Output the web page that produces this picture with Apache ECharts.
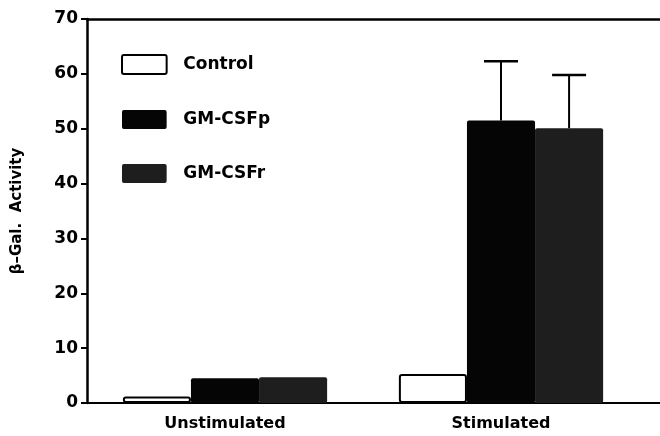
<!DOCTYPE html>
<html>
<head>
<meta charset="utf-8">
<script src="https://cdn.jsdelivr.net/npm/echarts@6/dist/echarts.min.js"></script>
<style>html,body{margin:0;padding:0;background:#fff}#c{width:660px;height:436px}</style>
</head>
<body>
<div id="c"></div>
<script>
var categories = ['Unstimulated', 'Stimulated'];
var seriesNames = ['Control', 'GM-CSFp', 'GM-CSFr'];
var controlValues = [1.2, 5.3];
var gmcsfpValues = [4.5, 51.5];
var gmcsfrValues = [4.7, 50.1];
var controlErr = [0, 0];
var gmcsfpErr = [0, 10.8];
var gmcsfrErr = [0, 9.7];
var yTicks = [0, 10, 20, 30, 40, 50, 60, 70];

var FONT = '"DejaVu Sans", sans-serif';
var GAP = 0.26;
var values = [controlValues, gmcsfpValues, gmcsfrValues];
var errs = [controlErr, gmcsfpErr, gmcsfrErr];
var fills = ['#ffffff', '#050505', '#1e1e1e'];

var chart = echarts.init(document.getElementById('c'), null, {renderer: 'canvas'});

var series = [];
seriesNames.forEach(function (name, i) {
  series.push({
    name: name, type: 'bar', xAxisIndex: 2, yAxisIndex: 1,
    barGap: 0, barCategoryGap: (GAP * 100) + '%',
    data: values[i],
    itemStyle: {color: fills[i], borderColor: '#000', borderWidth: i === 0 ? 2 : 0, borderRadius: 2},
    animation: false, z: 2
  });
});
// error bars
series.push({
  type: 'custom', xAxisIndex: 2, yAxisIndex: 1, animation: false, z: 3,
  data: (function () {
    var d = [];
    for (var s = 0; s < 3; s++) for (var c = 0; c < categories.length; c++) {
      if (errs[s][c] > 0) d.push([c, values[s][c], values[s][c] + errs[s][c], s]);
    }
    return d;
  })(),
  encode: {x: 0, y: [1, 2]},
  renderItem: function (params, api) {
    var c = api.value(0), lo = api.value(1), hi = api.value(2), s = api.value(3);
    var band = api.size([1, 0])[0];
    var bw = band * (1 - GAP) / 3;
    var p0 = api.coord([c, lo]);
    var p1 = api.coord([c, hi]);
    var x = p0[0] + (s - 1) * bw;
    var cap = 17;
    return {
      type: 'group',
      children: [
        {type: 'line', shape: {x1: x, y1: p0[1], x2: x, y2: p1[1]}, style: {stroke: '#000', lineWidth: 2}},
        {type: 'line', shape: {x1: x - cap, y1: p1[1], x2: x + cap, y2: p1[1]}, style: {stroke: '#000', lineWidth: 2.5}}
      ]
    };
  }
});

chart.setOption({
  backgroundColor: '#fff',
  animation: false,
  textStyle: {fontFamily: FONT},
  grid: [
    {left: 87, right: -5, top: 19, bottom: 33},
    {left: 87, right: 21, top: 19, bottom: 33}
  ],
  xAxis: [
    {gridIndex: 0, type: 'value', min: 0, max: 1, position: 'bottom',
     axisLine: {show: true, lineStyle: {color: '#000', width: 2}}, axisTick: {show: false}, axisLabel: {show: false}, splitLine: {show: false}},
    {gridIndex: 0, type: 'value', min: 0, max: 1, position: 'top',
     axisLine: {show: true, lineStyle: {color: '#000', width: 2.5}}, axisTick: {show: false}, axisLabel: {show: false}, splitLine: {show: false}},
    {gridIndex: 1, type: 'category', data: categories,
     axisLine: {show: false}, axisTick: {show: false},
     axisLabel: {color: '#000', fontWeight: 'bold', fontSize: 16, margin: 13, fontFamily: FONT}}
  ],
  yAxis: [
    {gridIndex: 0, type: 'value', min: 0, max: 1, show: false},
    {gridIndex: 1, type: 'value', min: yTicks[0], max: yTicks[yTicks.length - 1], interval: 10,
     name: 'β–Gal.  Activity', nameLocation: 'middle', nameGap: 62, nameRotate: 90,
     nameTextStyle: {color: '#000', fontWeight: 'bold', fontSize: 15, fontFamily: FONT},
     axisLine: {show: true, lineStyle: {color: '#000', width: 2.5}},
     axisTick: {show: true, length: 6, inside: false, lineStyle: {color: '#000', width: 2}},
     axisLabel: {color: '#000', fontWeight: 'bold', fontSize: 17, margin: 9, fontFamily: FONT},
     splitLine: {show: false}}
  ],
  legend: {
    orient: 'vertical', left: 121, top: 54, padding: 0,
    data: seriesNames,
    itemWidth: 46, itemHeight: 19, itemGap: 35,
    icon: 'path://M2,0 L45,0 Q47,0 47,2 L47,18 Q47,20 45,20 L2,20 Q0,20 0,18 L0,2 Q0,0 2,0 Z',
    textStyle: {color: '#000', fontWeight: 'bold', fontSize: 17, fontFamily: FONT, padding: [0, 0, 0, 11]},
    selectedMode: false
  },
  series: series
});
</script>
</body>
</html>
